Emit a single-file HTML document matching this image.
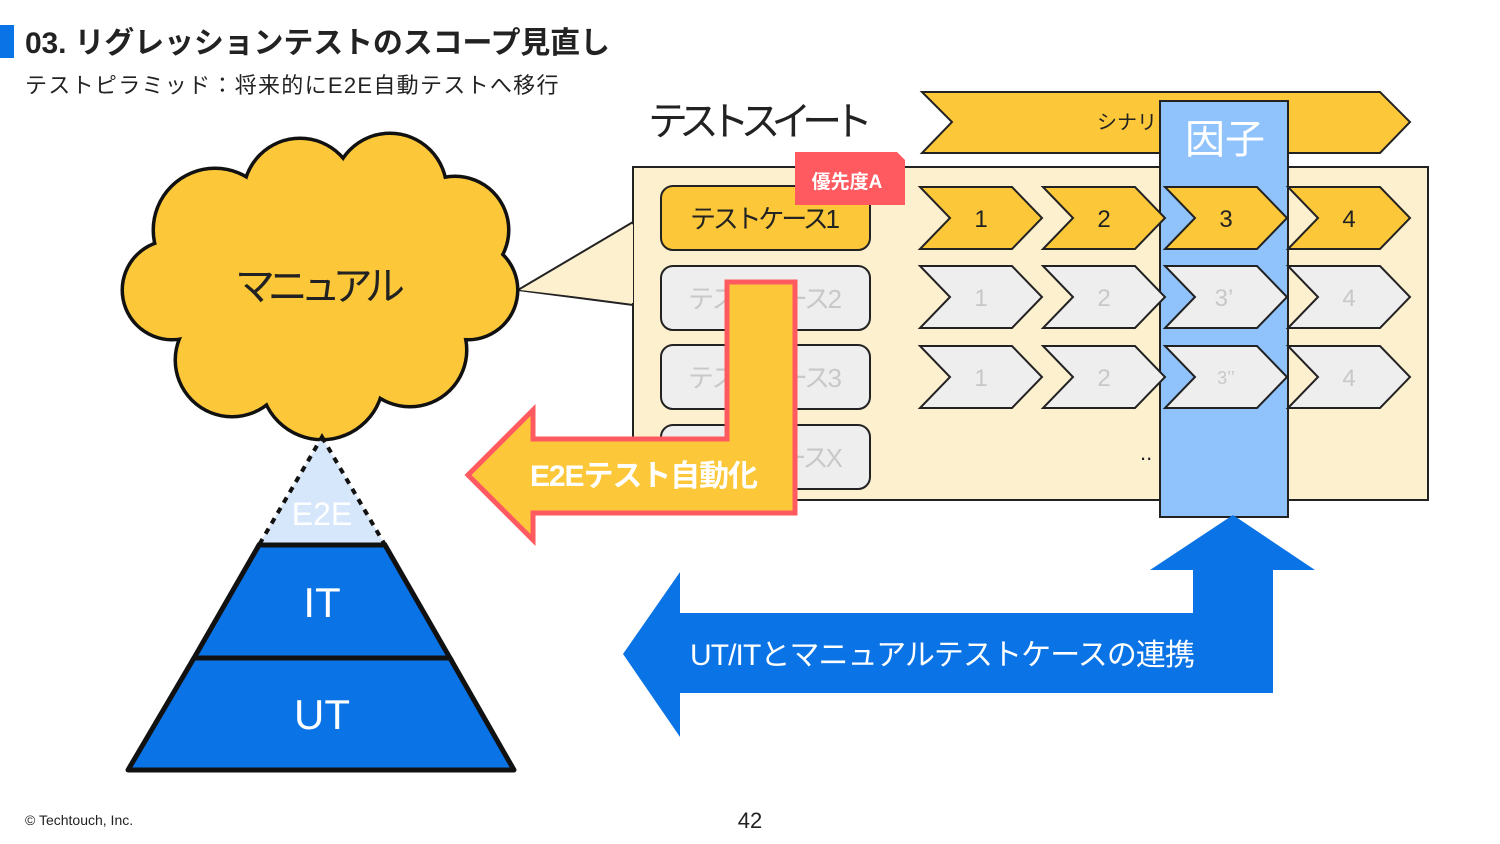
<!DOCTYPE html>
<html><head><meta charset="utf-8"><style>
html,body{margin:0;padding:0;background:#fff;}
svg{display:block;font-family:"Liberation Sans","Noto Sans CJK JP",sans-serif;}
</style></head><body>
<svg width="1500" height="844" viewBox="0 0 1500 844" xmlns="http://www.w3.org/2000/svg">
<rect x="0" y="25" width="14" height="33" fill="#0a73e6"/>
<text x="25" y="53" font-size="30" font-weight="bold" fill="#222" textLength="585">03. リグレッションテストのスコープ見直し</text>
<text x="25" y="93" font-size="22" fill="#222" style="letter-spacing:1.3px">テストピラミッド：将来的にE2E自動テストへ移行</text>

<!-- callout box -->
<polygon points="518,290 633,222 633,305" fill="#fdf0cf" stroke="#222" stroke-width="2"/>
<rect x="633" y="167" width="795" height="333" fill="#fdf0cf" stroke="#222" stroke-width="2"/>
<polygon points="633,224 633,303 520,290" fill="#fdf0cf"/>

<!-- cloud -->
<g fill="#fcc83a" stroke="#111" stroke-width="7">
<circle cx="215" cy="230" r="60"/><circle cx="300" cy="195" r="55"/><circle cx="390" cy="190" r="55"/>
<circle cx="455" cy="230" r="52"/><circle cx="468" cy="290" r="48"/><circle cx="410" cy="350" r="55"/>
<circle cx="322" cy="378" r="60"/><circle cx="232" cy="360" r="55"/><circle cx="172" cy="290" r="48"/>
</g>
<g fill="#fcc83a">
<circle cx="215" cy="230" r="60"/><circle cx="300" cy="195" r="55"/><circle cx="390" cy="190" r="55"/>
<circle cx="455" cy="230" r="52"/><circle cx="468" cy="290" r="48"/><circle cx="410" cy="350" r="55"/>
<circle cx="322" cy="378" r="60"/><circle cx="232" cy="360" r="55"/><circle cx="172" cy="290" r="48"/>
<circle cx="320" cy="285" r="125"/>
</g>
<text x="235" y="300" font-size="40" fill="#222" textLength="170">マニュアル</text>

<!-- pyramid -->
<polygon points="322,437 385,545 259,545" fill="#d6e6fb" stroke="#111" stroke-width="4" stroke-dasharray="6,6"/>
<polygon points="259,545 385,545 450,658 194,658" fill="#0a73e6" stroke="#111" stroke-width="5"/>
<polygon points="194,658 450,658 514,770 128,770" fill="#0a73e6" stroke="#111" stroke-width="5" stroke-linejoin="round"/>
<text x="322" y="525" font-size="32" text-anchor="middle" fill="#fff">E2E</text>
<text x="322" y="617" font-size="42" text-anchor="middle" fill="#fff">IT</text>
<text x="322" y="729" font-size="42" text-anchor="middle" fill="#fff">UT</text>

<text x="648" y="135" font-size="40" fill="#222" textLength="225">テストスイート</text>
<polygon points="922,92 1380,92 1410,122 1380,153 922,153 952,122" fill="#fcc83a" stroke="#222" stroke-width="2"/>
<text x="1097" y="129" font-size="20" fill="#222">シナリオ</text>

<!-- test cases -->
<g stroke="#222" stroke-width="2">
<rect x="661" y="186" width="209" height="64" rx="12" fill="#fcc83a"/>
<rect x="661" y="266" width="209" height="64" rx="12" fill="#eeeeee"/>
<rect x="661" y="345" width="209" height="64" rx="12" fill="#eeeeee"/>
<rect x="661" y="425" width="209" height="64" rx="12" fill="#eeeeee"/>
</g>
<g font-size="26">
<text x="690" y="228" fill="#222" textLength="150">テストケース1</text>
<text x="688" y="308" fill="#c8c8c8" textLength="154">テストケース2</text>
<text x="688" y="387" fill="#c8c8c8" textLength="154">テストケース3</text>
<text x="688" y="467" fill="#c8c8c8" textLength="155">テストケースX</text>
</g>
<polygon points="795,152 897,152 905,160 905,205 795,205" fill="#ff5a5f"/>
<text x="847" y="188" font-size="19" font-weight="bold" text-anchor="middle" fill="#fff">優先度A</text>

<!-- factor column -->
<rect x="1160" y="101" width="128" height="416" fill="#90c2fb" stroke="#222" stroke-width="2"/>
<text x="1225" y="153" font-size="40" text-anchor="middle" fill="#fff">因子</text>

<!-- chevrons -->
<g stroke="#222" stroke-width="2">
<g fill="#fcc83a">
<polygon points="920,187 1012,187 1042,218 1012,249 920,249 950,218"/>
<polygon points="1043,187 1135,187 1165,218 1135,249 1043,249 1073,218"/>
<polygon points="1165,187 1257,187 1287,218 1257,249 1165,249 1195,218"/>
<polygon points="1288,187 1380,187 1410,218 1380,249 1288,249 1318,218"/>
</g>
<g fill="#eeeeee">
<polygon points="920,266 1012,266 1042,297 1012,328 920,328 950,297"/>
<polygon points="1043,266 1135,266 1165,297 1135,328 1043,328 1073,297"/>
<polygon points="1165,266 1257,266 1287,297 1257,328 1165,328 1195,297"/>
<polygon points="1288,266 1380,266 1410,297 1380,328 1288,328 1318,297"/>
<polygon points="920,346 1012,346 1042,377 1012,408 920,408 950,377"/>
<polygon points="1043,346 1135,346 1165,377 1135,408 1043,408 1073,377"/>
<polygon points="1165,346 1257,346 1287,377 1257,408 1165,408 1195,377"/>
<polygon points="1288,346 1380,346 1410,377 1380,408 1288,408 1318,377"/>
</g>
</g>
<g font-size="24" text-anchor="middle">
<text x="981" y="227" fill="#222">1</text><text x="1104" y="227" fill="#222">2</text><text x="1226" y="227" fill="#222">3</text><text x="1349" y="227" fill="#222">4</text>
<text x="981" y="306" fill="#c8c8c8">1</text><text x="1104" y="306" fill="#c8c8c8">2</text><text x="1224" y="306" fill="#c8c8c8">3’</text><text x="1349" y="306" fill="#c8c8c8">4</text>
<text x="981" y="386" fill="#c8c8c8">1</text><text x="1104" y="386" fill="#c8c8c8">2</text><text x="1226" y="384" font-size="18" fill="#c8c8c8">3’’</text><text x="1349" y="386" fill="#c8c8c8">4</text>
</g>
<text x="1140" y="460" font-size="22" fill="#222">..</text>

<!-- E2E arrow -->
<polygon points="727,282 795,282 795,513 533,513 533,540 468,475 533,410 533,439 727,439" fill="#fcc83a" stroke="#ff5a5f" stroke-width="5" stroke-linejoin="miter"/>
<text x="530" y="486" font-size="30" font-weight="bold" fill="#fff" textLength="228">E2Eテスト自動化</text>

<!-- blue arrow -->
<polygon points="1233,515 1315,570 1273,570 1273,693 680,693 680,737 623,654 680,572 680,613 1193,613 1193,570 1150,570" fill="#0a73e6"/>
<text x="690" y="665" font-size="30" fill="#fff" textLength="505">UT/ITとマニュアルテストケースの連携</text>

<text x="25" y="825" font-size="14" fill="#222">© Techtouch, Inc.</text>
<text x="750" y="828" font-size="22" text-anchor="middle" fill="#222">42</text>
</svg>
</body></html>
